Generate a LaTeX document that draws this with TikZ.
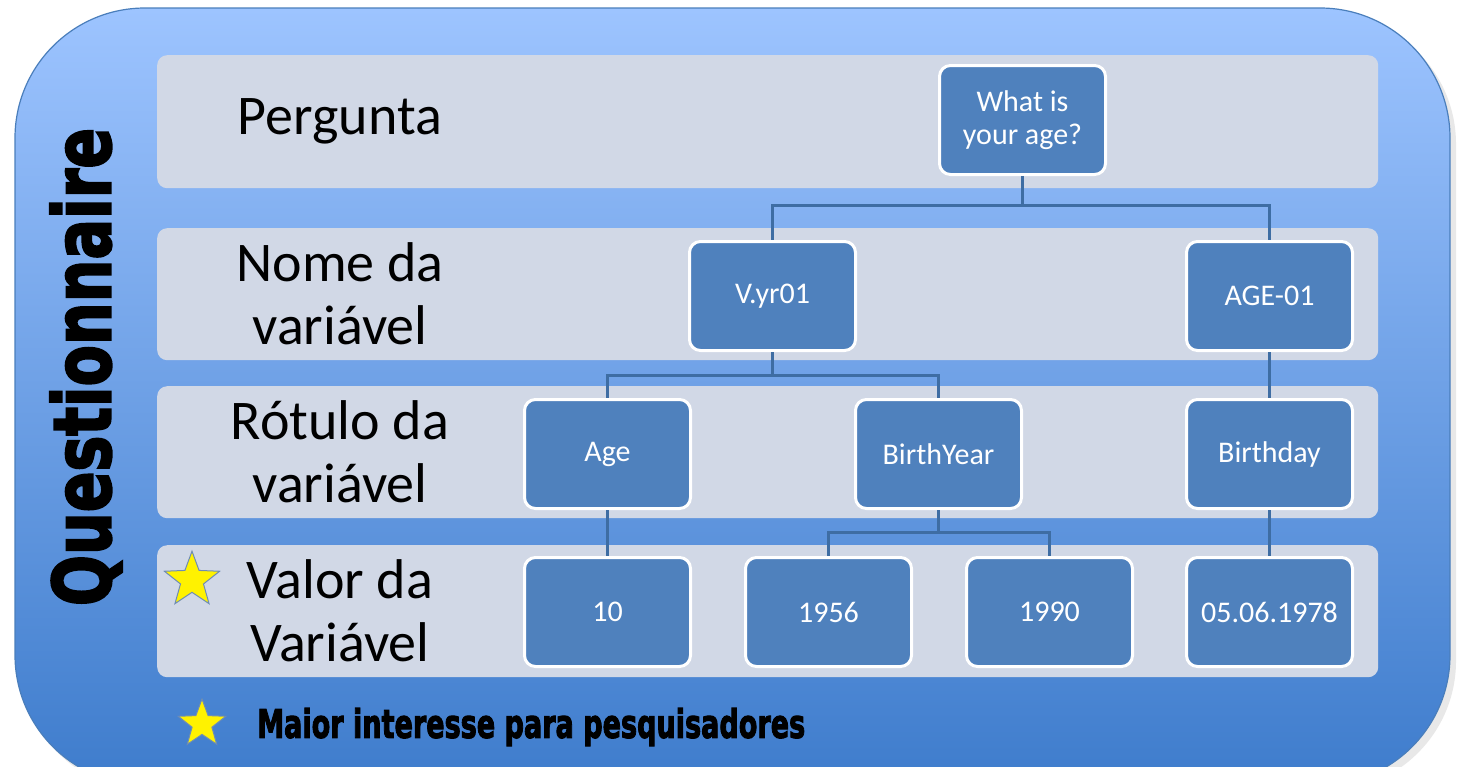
\documentclass[tikz,border=0pt]{standalone}
\usepackage{fontspec}
\setmainfont{Carlito}
\newfontfamily\heavyfont{DejaVu Sans}[FakeBold=3]
\usepackage{graphicx}
\usepackage{tikz}
\usetikzlibrary{shapes,calc,positioning}

\definecolor{panelTop}{RGB}{157,196,255}
\definecolor{panelBot}{RGB}{62,124,204}
\definecolor{panelLine}{RGB}{74,126,187}
\definecolor{bandGray}{RGB}{209,216,230}
\definecolor{boxBlue}{RGB}{79,129,189}
\definecolor{linkBlue}{RGB}{62,109,163}
\definecolor{starLine}{RGB}{110,140,180}

\begin{document}
\begin{tikzpicture}[
  band/.style={fill=bandGray, rounded corners=10pt, minimum width=1221pt, minimum height=132pt, inner sep=0pt},
  box/.style={draw=white, line width=3pt, fill=boxBlue, rounded corners=11pt, minimum width=166pt, minimum height=109pt, text=white, align=center, font=\fontsize{30}{33}\selectfont, inner sep=0pt},
  lbl/.style={align=center, font=\fontsize{56}{63}\selectfont},
  link/.style={draw=linkBlue, line width=3pt},
  goldstar/.style={star, star points=5, star point ratio=2.4, fill=yellow, draw=starLine, line width=1pt, minimum size=58pt, inner sep=0pt}
]

\useasboundingbox (0,0) rectangle (1463pt,-766pt);
\clip (0,0) rectangle (1463pt,-766pt);
\coordinate(O1) at (0,0);

% outer panel
\fill[black!50, opacity=0.18, rounded corners=130pt] (20pt,-14pt) rectangle (1456pt,-791pt);
\shade[top color=panelTop, bottom color=panelBot, rounded corners=130pt] (15pt,-8pt) rectangle (1450pt,-785pt);
\draw[panelLine, line width=1.2pt, rounded corners=130pt] (15pt,-8pt) rectangle (1450pt,-785pt);

% rows
\node[band, below right=55pt and 157pt of O1, minimum height=133pt](r1) {};
\node[band, below right=228pt and 157pt of O1](r2) {};
\node[band, below right=386pt and 157pt of O1](r3) {};
\node[band, below right=545pt and 157pt of O1](r4) {};

\node[lbl] (lp) at ($(r1.west)+(183pt,0)$) {Pergunta};
\node[lbl] (ln) at ($(r2.west)+(183pt,0)$) {Nome da\\variável};
\node[lbl] (lr) at ($(r3.west)+(183pt,0)$) {Rótulo da\\variável};
\node[lbl] (lv) at ($(r4.west)+(183pt,0)$) {Valor da\\Variável};

\node[goldstar] (s1) at ($(r4.west)+(35pt,31pt)$) {};

\node[rotate=90, inner sep=0pt] (qn) at (86pt,-367pt) {\resizebox*{478pt}{72pt}{\heavyfont\bfseries Questionnaire}};

% tree
\node[box, below right=64pt and 938pt of O1](q) {What is\\your age?};

\node[box, below right=240pt and 688pt of O1](vyr) {V.yr01};
\node[box, below right=240pt and 1185pt of O1](age01) {AGE-01};

\node[box, below right=398pt and 523pt of O1](lage) {Age};
\node[box, below right=398pt and 854pt of O1](lby) {BirthYear};
\node[box, below right=398pt and 1185pt of O1](lbd) {Birthday};

\node[box, below right=556pt and 523pt of O1](v10) {10};
\node[box, below right=556pt and 744pt of O1](v1956) {1956};
\node[box, below right=556pt and 965pt of O1](v1990) {1990};
\node[box, below right=556pt and 1185pt of O1](vdate) {05.06.1978};

\draw[link] (q.south) -- ++(0,-29pt) -| (vyr.north);
\draw[link] (q.south) -- ++(0,-29pt) -| (age01.north);
\draw[link] (vyr.south) -- ++(0,-23pt) -| (lage.north);
\draw[link] (vyr.south) -- ++(0,-23pt) -| (lby.north);
\draw[link] (age01.south) -- (lbd.north);
\draw[link] (lage.south) -- (v10.north);
\draw[link] (lby.south) -- ++(0,-22pt) -| (v1956.north);
\draw[link] (lby.south) -- ++(0,-22pt) -| (v1990.north);
\draw[link] (lbd.south) -- (vdate.north);

% legend
\node[goldstar, minimum size=50pt] (s2) at (202pt,-724pt) {};
\node[anchor=west, inner sep=0pt] (leg) at (257pt,-727pt) {\resizebox*{548pt}{38pt}{\heavyfont\bfseries Maior interesse para pesquisadores}};
\end{tikzpicture}
\end{document}
